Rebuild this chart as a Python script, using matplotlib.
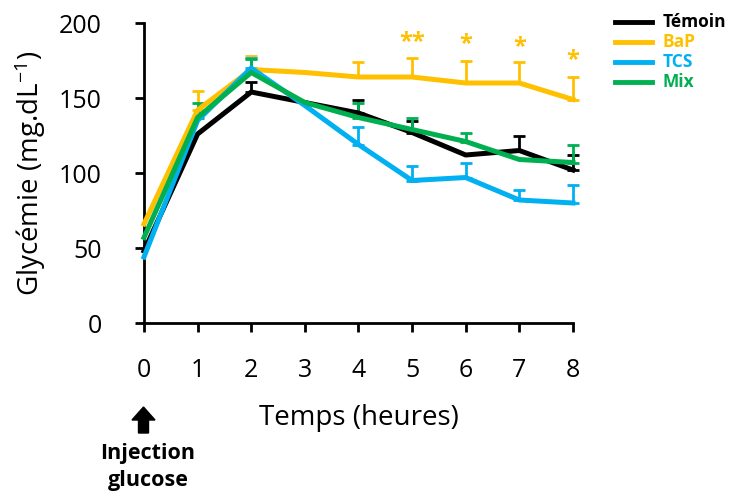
import matplotlib.pyplot as plt
from matplotlib.patches import FancyArrow

# ── Data ─────────────────────────────────────────────
temps = [0, 1, 2, 3, 4, 5, 6, 7, 8]

temoin     = [48, 126, 154, 147, 140, 127, 112, 115, 102]
temoin_err = [0, 0, 7, 0, 9, 8, 0, 10, 10]

bap     = [66, 142, 169, 167, 164, 164, 160, 160, 149]
bap_err = [0, 13, 9, 0, 10, 13, 15, 14, 15]

tcs     = [44, 135, 170, 145, 119, 95, 97, 82, 80]
tcs_err = [0, 0, 7, 0, 12, 10, 10, 7, 12]

mix     = [57, 137, 167, 147, 137, 129, 121, 109, 107]
mix_err = [0, 10, 9, 0, 10, 8, 6, 0, 12]

stars_x = [5, 6, 7, 8]
stars_y = [187, 186, 184, 175]
stars   = ["**", "*", "*", "*"]

series = [
    ("Témoin", temoin, temoin_err, "#000000"),
    ("BaP",    bap,    bap_err,    "#FFC000"),
    ("TCS",    tcs,    tcs_err,    "#00B0F0"),
    ("Mix",    mix,    mix_err,    "#00B050"),
]

plt.rcParams["font.family"] = ["Open Sans", "DejaVu Sans"]
plt.rcParams["mathtext.fontset"] = "custom"
plt.rcParams["mathtext.rm"] = "Open Sans"
plt.rcParams["mathtext.it"] = "Open Sans"

fig = plt.figure(figsize=(7.32, 4.98), dpi=100)
ax = fig.add_axes([0.1967, 0.3514, 0.586, 0.6024])

for name, vals, err, col in series:
    # only points that have a visible (upper) error bar
    xs = [t for t, e in zip(temps, err) if e > 0]
    ys = [v for v, e in zip(vals, err) if e > 0]
    es = [e for e in err if e > 0]
    ax.errorbar(xs, ys, yerr=[[0] * len(es), es], fmt="none",
                ecolor=col, elinewidth=2, capsize=4, capthick=2,
                zorder=2, clip_on=False)
    ax.plot(temps, vals, color=col, lw=3.6, zorder=3, clip_on=False)

for x, y, s in zip(stars_x, stars_y, stars):
    ax.text(x, y, s, color="#FFC000", fontsize=17, fontweight="bold",
            ha="center", va="center")

ax.set_xlim(0, 8)
ax.set_ylim(0, 200)
ax.set_xticks(temps)
ax.set_yticks([0, 50, 100, 150, 200])
ax.tick_params(labelsize=18, width=2, length=6.5, direction="out")
ax.tick_params(axis="y", pad=24)
ax.tick_params(axis="x", pad=19)
for sp in ["top", "right"]:
    ax.spines[sp].set_visible(False)
for sp in ["left", "bottom"]:
    ax.spines[sp].set_linewidth(2)

ax.set_xlabel("Temps (heures)", fontsize=20, labelpad=15)
ax.set_ylabel("Glycémie (mg.dL$^{-1}$)", fontsize=20, labelpad=8)

# legend (drawn by hand, bold coloured labels)
for i, (name, vals, err, col) in enumerate(series):
    yf = 1 - (22 + i * 20) / 498
    fig.add_artist(plt.Line2D([615 / 732, 652 / 732], [yf, yf],
                              color=col, lw=3.5, transform=fig.transFigure))
    fig.text(663 / 732, yf, name, color=col, fontsize=12.5,
             fontweight="bold", va="center", ha="left")

# injection arrow
fig.add_artist(FancyArrow(
    143.5 / 732, 1 - 433 / 498, 0, 26 / 498, width=10 / 732,
    head_width=23 / 732, head_length=13 / 498, length_includes_head=True,
    color="black", transform=fig.transFigure))
fig.text(148 / 732, 1 - 467 / 498, "Injection\nglucose", fontsize=15.5,
         fontweight="bold", ha="center", va="center", linespacing=1.35)

fig.savefig("out.png", dpi=100)
